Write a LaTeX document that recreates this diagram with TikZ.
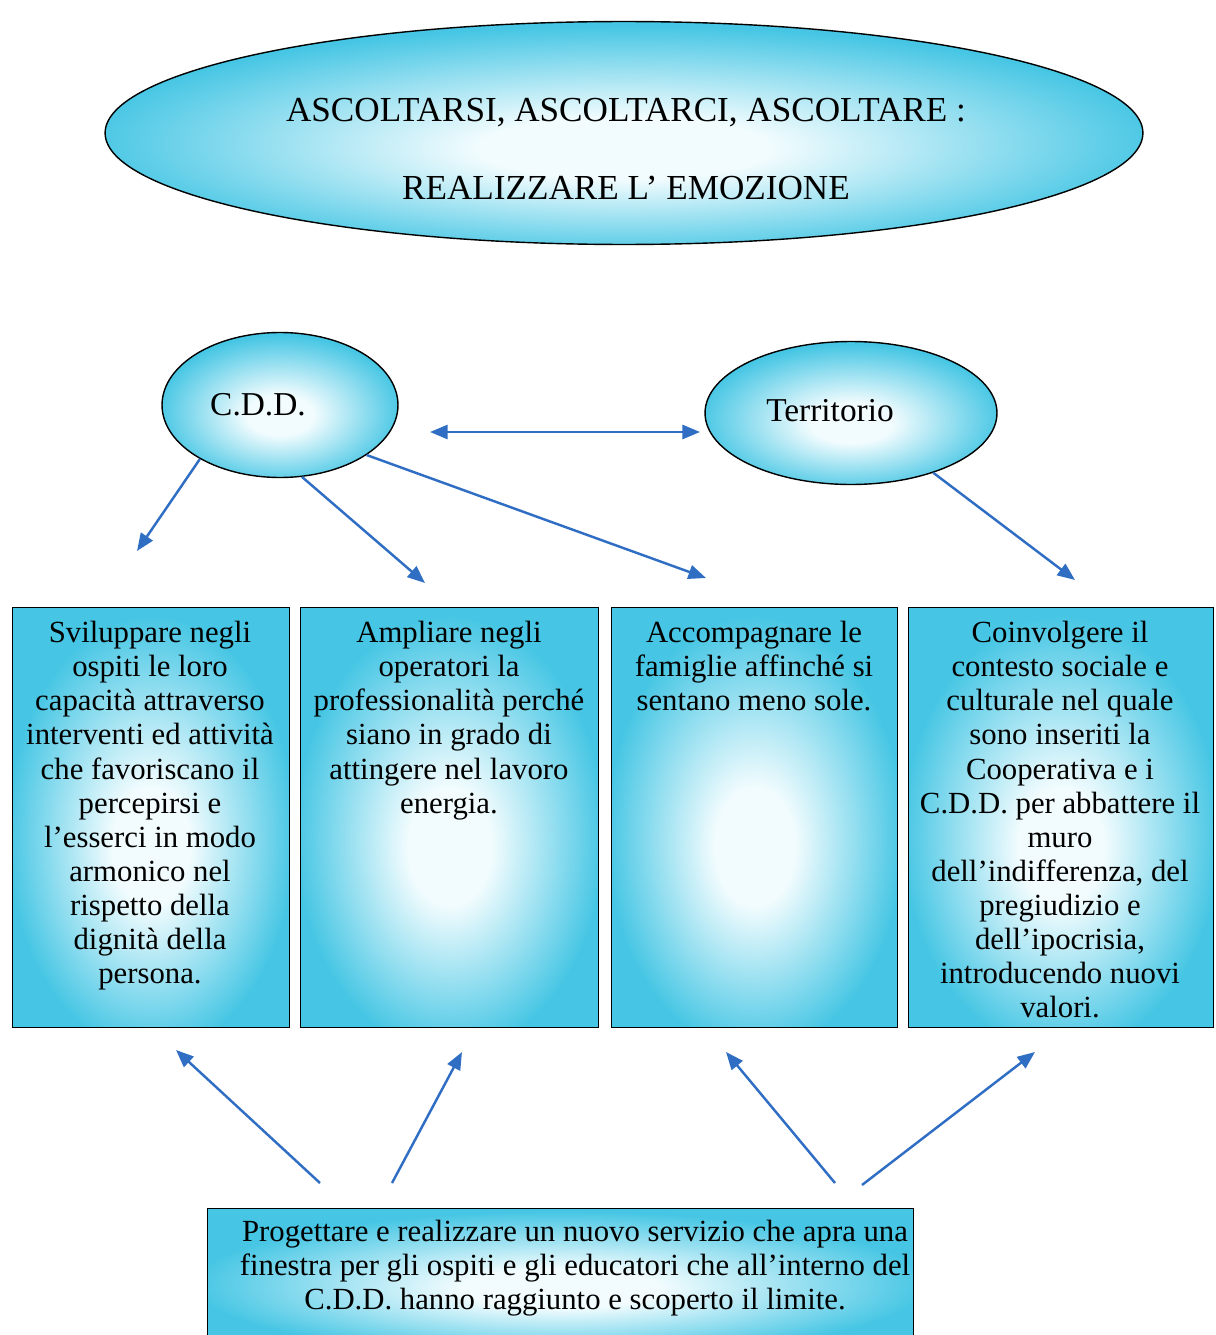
\documentclass[tikz,border=0pt]{standalone}
\usepackage{fontspec}
\setmainfont{Liberation Serif}
\usetikzlibrary{shapes.geometric,arrows.meta}

\definecolor{cyanfill}{RGB}{70,198,228}
\definecolor{lightfill}{RGB}{242,252,254}
\definecolor{arrowblue}{RGB}{48,110,196}

\pgfdeclareradialshading{softglow}{\pgfpoint{0bp}{-4bp}}{color(0bp)=(lightfill);color(7bp)=(lightfill);color(26bp)=(cyanfill);color(50bp)=(cyanfill)}

\begin{document}
\begin{tikzpicture}[x=0.02cm,y=-0.02cm,
  bubble/.style={ellipse,draw=black,thick,shading=softglow,inner sep=0pt},
  panel/.style={rectangle,draw=black,thick,shading=softglow,anchor=north west,inner sep=0pt,minimum height=8.4cm},
  paneltext/.style={anchor=north,align=center,inner sep=0pt,font=\fontsize{17.5}{19.4}\selectfont},
  bubbletext/.style={inner sep=0pt,font=\fontsize{19}{22}\selectfont},
  link/.style={-{Triangle[length=10pt,width=8pt]},line width=1.4pt,draw=arrowblue}]

\useasboundingbox (0,0) rectangle (1215,1335);

%TOP
\node[bubble,minimum width=20.76cm,minimum height=4.46cm](v0) at (624,133) {};
\node[align=center,inner sep=0pt,font=\fontsize{20}{44}\selectfont](t0) at (626,149) {ASCOLTARSI, ASCOLTARCI, ASCOLTARE :\\REALIZZARE L’ EMOZIONE};
%TOP

\node[bubble,minimum width=4.72cm,minimum height=2.9cm](v1) at (280,405) {};
\node[bubble,minimum width=5.84cm,minimum height=2.86cm](v2) at (851,413) {};
\node[bubbletext](t1) at (258,405) {C.D.D.};
\node[bubbletext](t2) at (830,411) {Territorio};

\node[panel,minimum width=5.54cm](v3) at (12,607) {};
\node[panel,minimum width=5.96cm](v4) at (300,607) {};
\node[panel,minimum width=5.72cm](v5) at (611,607) {};
\node[panel,minimum width=6.1cm](v6) at (908,607) {};
\node[panel,minimum width=14.12cm,minimum height=2.8cm](v7) at (207,1208) {};

\node[paneltext](t3) at (150,621) {Sviluppare negli\\ospiti le loro\\capacità attraverso\\interventi ed attività\\che favoriscano il\\percepirsi e\\l’esserci in modo\\armonico nel\\rispetto della\\dignità della\\persona.};
\node[paneltext](t4) at (449,621) {Ampliare negli\\operatori la\\professionalità perché\\siano in grado di\\attingere nel lavoro\\energia.};
\node[paneltext](t5) at (754,621) {Accompagnare le\\famiglie affinché si\\sentano meno sole.};
\node[paneltext](t6) at (1060,621) {Coinvolgere il\\contesto sociale e\\culturale nel quale\\sono inseriti la\\Cooperativa e i\\C.D.D. per abbattere il\\muro\\dell’indifferenza, del\\pregiudizio e\\dell’ipocrisia,\\introducendo nuovi\\valori.};
\node[paneltext](t7) at (575,1220) {Progettare e realizzare un nuovo servizio che apra una\\finestra per gli ospiti e gli educatori che all’interno del\\C.D.D. hanno raggiunto e scoperto il limite.};

%ARROW ENDS
\coordinate(p1) at (137,551);
\coordinate(p2) at (425,583);
\coordinate(p3) at (706,578);
\coordinate(p4) at (1075,580);
\coordinate(p5) at (430,432);
\coordinate(p6) at (700,432);
\coordinate(q1) at (320,1183);
\coordinate(q2) at (392,1183);
\coordinate(q3) at (835,1183);
\coordinate(q4) at (862,1185);
\coordinate(r1) at (176,1050);
\coordinate(r2) at (462,1052);
\coordinate(r3) at (726,1052);
\coordinate(r4) at (1035,1052);
%ARROW ENDS

\draw[link] (v1.214) -- (p1);
\draw[link] (v1.287) -- (p2);
\draw[link] (v1.330) -- (p3);
\draw[link] (v2.324) -- (p4);
\draw[link,{Triangle[length=10pt,width=8pt]}-{Triangle[length=10pt,width=8pt]}] (p5) -- (p6);

\draw[link] (q1) -- (r1);
\draw[link] (q2) -- (r2);
\draw[link] (q3) -- (r3);
\draw[link] (q4) -- (r4);

\end{tikzpicture}
\end{document}
